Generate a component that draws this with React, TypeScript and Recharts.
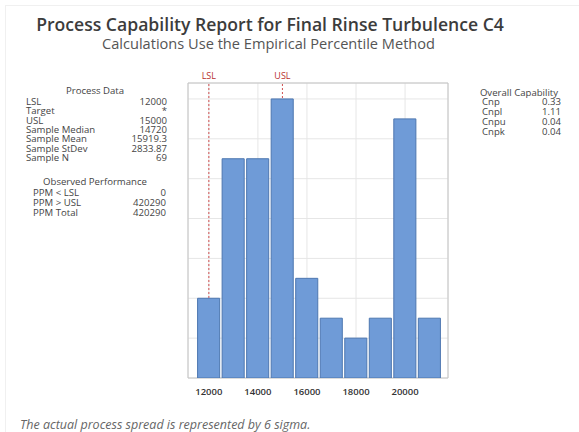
import React from 'react';
import { ComposedChart, Bar, XAxis, YAxis, CartesianGrid, ReferenceLine, ReferenceArea } from 'recharts';

const binCenters = [12000, 13000, 14000, 15000, 16000, 17000, 18000, 19000, 20000, 21000];
const counts = [4, 11, 11, 14, 5, 3, 2, 3, 13, 3];
const xTicks = [12000, 14000, 16000, 18000, 20000];
const yTicks = [0, 2, 4, 6, 8, 10, 12, 14];
const xDomain = [11150, 21750];
const yMax = 14.8;
const LSL = 12000;
const USL = 15000;

const processData: [string, string][] = [
  ['LSL', '12000'],
  ['Target', '*'],
  ['USL', '15000'],
  ['Sample Median', '14720'],
  ['Sample Mean', '15919.3'],
  ['Sample StDev', '2833.87'],
  ['Sample N', '69'],
];
const observed: [string, string][] = [
  ['PPM < LSL', '0'],
  ['PPM > USL', '420290'],
  ['PPM Total', '420290'],
];
const capability: [string, string][] = [
  ['Cnp', '0.33'],
  ['Cnpl', '1.11'],
  ['Cnpu', '0.04'],
  ['Cnpk', '0.04'],
];

const data = binCenters.map((x, i) => ({ x, count: counts[i] }));

const font = '"Open Sans", "DejaVu Sans", sans-serif';
const panelSize = 9.6;

function Rows({ rows, top, left, right, step }: { rows: [string, string][]; top: number; left: number; right: number; step: number }) {
  const st = { position: 'absolute' as const, top: 0, fontSize: panelSize, lineHeight: `${step}px`, color: '#444', whiteSpace: 'nowrap' as const };
  return (
    <>
      {rows.map(([k, v], i) => (
        <React.Fragment key={k}>
          <div style={{ ...st, left, top: top + i * step }}>{k}</div>
          <div style={{ ...st, right: 579 - right, top: top + i * step, textAlign: 'right' }}>{v}</div>
        </React.Fragment>
      ))}
    </>
  );
}

export default function App() {
  return (
    <div style={{ position: 'absolute', left: 0, top: 0, width: 579, height: 432, background: '#fff', fontFamily: font, overflow: 'hidden' }}>
      <div style={{ position: 'absolute', left: 5, top: 5, width: 580, height: 440, border: '1px solid #f0f0f0' }} />
      <div style={{ position: 'absolute', left: 0, width: 540, top: 13, textAlign: 'center', fontSize: 17.6, fontWeight: 600, color: '#3c3c3c', lineHeight: '22px', whiteSpace: 'nowrap' }}>
        Process Capability Report for Final Rinse Turbulence C4
      </div>
      <div style={{ position: 'absolute', left: 0, width: 537, top: 35, textAlign: 'center', fontSize: 14.6, color: '#555', lineHeight: '17px', whiteSpace: 'nowrap' }}>
        Calculations Use the Empirical Percentile Method
      </div>

      <div style={{ position: 'absolute', left: 20, width: 150, top: 86, textAlign: 'center', fontSize: panelSize, lineHeight: '10px', color: '#444' }}>Process Data</div>
      <Rows rows={processData} top={97} left={26} right={167} step={9.3} />
      <div style={{ position: 'absolute', left: 20, width: 150, top: 177, textAlign: 'center', fontSize: panelSize, lineHeight: '10px', color: '#444', whiteSpace: 'nowrap' }}>Observed Performance</div>
      <Rows rows={observed} top={188} left={33} right={166} step={10} />

      <div style={{ position: 'absolute', left: 465, width: 108, top: 88, textAlign: 'center', fontSize: panelSize, lineHeight: '10px', color: '#444', whiteSpace: 'nowrap' }}>Overall Capability</div>
      <Rows rows={capability} top={97} left={482} right={561} step={10} />

      <div style={{ position: 'absolute', left: 20, top: 417, fontSize: 12.5, fontStyle: 'italic', color: '#666', lineHeight: '16px', whiteSpace: 'nowrap' }}>
        The actual process spread is represented by 6 sigma.
      </div>

      <div style={{ position: 'absolute', left: 0, top: 0 }}>
        <ComposedChart width={579} height={432} data={data} margin={{ top: 83, right: 131, bottom: 34, left: 188 }}>
          <CartesianGrid stroke="#e6e6e6" />
          <XAxis
            dataKey="x"
            type="number"
            domain={xDomain}
            ticks={xTicks}
            allowDataOverflow
            axisLine={false}
            tickLine={false}
            height={20}
            tick={{ fontSize: 9.5, fill: '#333', fontWeight: 600, fontFamily: font }}
            tickMargin={4}
          />
          <YAxis hide type="number" domain={[0, yMax]} ticks={yTicks} allowDataOverflow />
          <ReferenceArea x1={xDomain[0]} x2={xDomain[1]} y1={0} y2={yMax} fill="none" stroke="#c4c4c4" strokeWidth={1} ifOverflow="visible" />
          <ReferenceLine
            x={LSL}
            stroke="#d05050"
            strokeDasharray="2 2"
            zIndex={50}
            label={{ value: 'LSL', position: 'top', fill: '#b83030', fontSize: 9, fontFamily: font, offset: 4 }}
          />
          <ReferenceLine
            x={USL}
            stroke="#d05050"
            strokeDasharray="2 2"
            zIndex={50}
            label={{ value: 'USL', position: 'top', fill: '#b83030', fontSize: 9, fontFamily: font, offset: 4 }}
          />
          <Bar dataKey="count" fill="#6f9bd7" stroke="#4d77b0" strokeWidth={1} barSize={24.6} zIndex={400} isAnimationActive={false} />
        </ComposedChart>
      </div>
    </div>
  );
}
